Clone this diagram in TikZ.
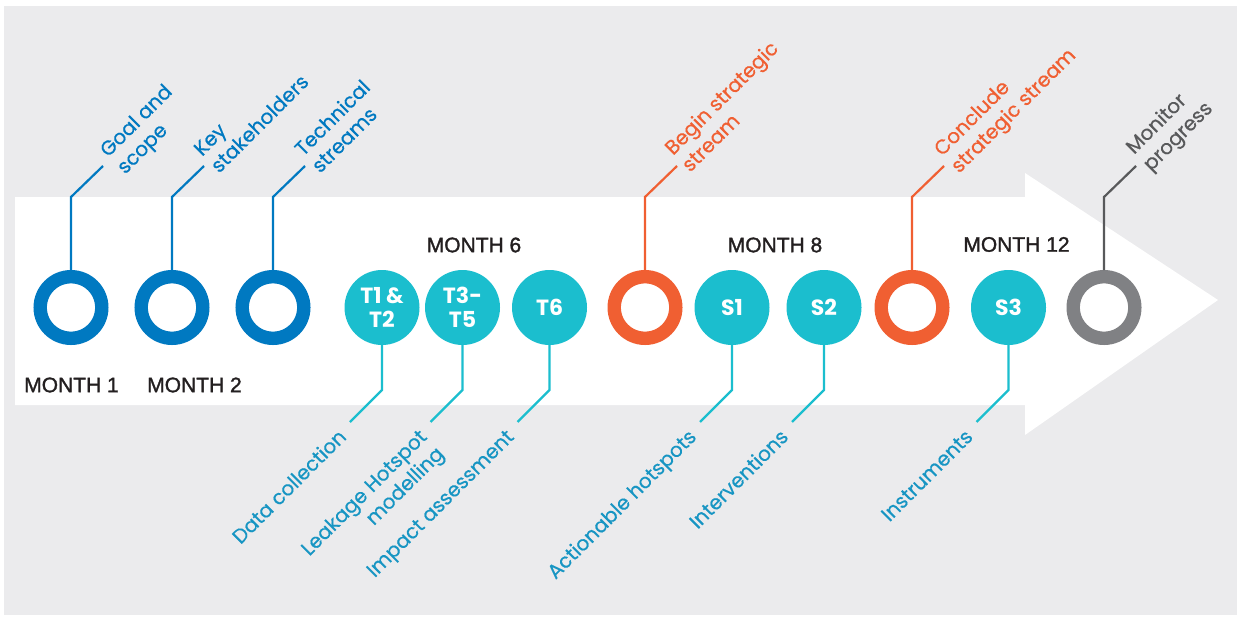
\documentclass[tikz,border=0pt]{standalone}
\usepackage{fontspec}
\setmainfont{Liberation Sans}
\newfontfamily\monthfont[FakeBold=1.5]{Liberation Sans}
\newfontfamily\labelfont[FakeBold=0.5]{Poppins}
\newfontfamily\taskfont{Poppins}
\usetikzlibrary{shapes.geometric, positioning}

\definecolor{bggray}{HTML}{EBEBED}
\definecolor{stepblue}{HTML}{0079C1}
\definecolor{tealring}{HTML}{1BBECE}
\definecolor{textteal}{HTML}{1795C3}
\definecolor{stratorange}{HTML}{F05F32}
\definecolor{ringgray}{HTML}{808184}
\definecolor{linegray}{HTML}{58595B}
\definecolor{monthblack}{HTML}{231F20}

\begin{document}
\begin{tikzpicture}[x=1pt, y=-1pt]

  \tikzstyle{ring} = [circle, minimum size=61.6pt, inner sep=0pt, outer sep=6.7pt, line width=13.4pt, fill=white]
  \tikzstyle{task} = [circle, minimum size=75pt, inner sep=0pt, outer sep=0pt, fill=tealring, text=white, align=center, font=\taskfont\bfseries\fontsize{22}{24}\selectfont]
  \tikzstyle{month} = [inner sep=0pt, text=monthblack, font=\monthfont\fontsize{21}{21}\selectfont]
  \tikzstyle{lead} = [line width=2.2pt]
  \tikzstyle{toplabel} = [rotate=45, anchor=base west, align=left, inner sep=0pt, font=\labelfont\fontsize{20}{24}\selectfont]
  \tikzstyle{botlabel} = [rotate=45, anchor=base east, align=right, inner sep=0pt, text=textteal, font=\labelfont\fontsize{20}{24}\selectfont]

  % background and arrow
  \fill [white] (0,0) rectangle (1241,618);
  \fill [bggray] (4,6) rectangle (1237,615);
  \fill [white] (15,197) -- (1025,197) -- (1025,173) -- (1218,300) -- (1025,435) -- (1025,405) -- (15,405) -- cycle;

  % milestones
  \node (goal)     [ring, draw=stepblue] at (71,307.5) {};
  \node (keys)     [ring, draw=stepblue] at (172,307.5) {};
  \node (techs)    [ring, draw=stepblue] at (273,307.5) {};
  \node (t12)      [task] at (382,307.5) {T1 \&\\T2};
  \node (t35)      [task] at (462.5,307.5) {T3-\\T5};
  \node (t6)       [task] at (549.5,307.5) {T6};
  \node (begin)    [ring, draw=stratorange] at (645,307.5) {};
  \node (s1)       [task] at (732,307.5) {S1};
  \node (s2)       [task] at (824,307.5) {S2};
  \node (conclude) [ring, draw=stratorange] at (912,307.5) {};
  \node (s3)       [task] at (1008.5,307.5) {S3};
  \node (monitor)  [ring, draw=ringgray] at (1104,307.5) {};

  \node (month1)  [month] at (71.5,385) {MONTH 1};
  \node (month2)  [month] at (194.5,385) {MONTH 2};
  \node (month6)  [month] at (474,245) {MONTH 6};
  \node (month8)  [month] at (775,245) {MONTH 8};
  \node (month12) [month] at (1016.5,244.5) {MONTH 12};

  % upper leaders
  \draw [lead, stepblue] (goal.north) -- ++(0,-73) -- ++(32,-31) coordinate (goalend);
  \node (goallabel) [toplabel, text=stepblue] at ([shift={(22,9)}]goalend) {Goal and\\scope};
  \draw [lead, stepblue] (keys.north) -- ++(0,-73) -- ++(32,-31) coordinate (keysend);
  \node (keyslabel) [toplabel, text=stepblue] at ([shift={(15,8)}]keysend) {Key\\stakeholders};
  \draw [lead, stepblue] (techs.north) -- ++(0,-73) -- ++(32,-31) coordinate (techsend);
  \node (techslabel) [toplabel, text=stepblue] at ([shift={(15,8)}]techsend) {Technical\\streams};
  \draw [lead, stratorange] (begin.north) -- ++(0,-73) -- ++(32,-31) coordinate (beginend);
  \node (beginlabel) [toplabel, text=stratorange] at ([shift={(13,7)}]beginend) {Begin strategic\\stream};
  \draw [lead, stratorange] (conclude.north) -- ++(0,-73) -- ++(32,-31) coordinate (concludeend);
  \node (concludelabel) [toplabel, text=stratorange] at ([shift={(15,8)}]concludeend) {Conclude\\strategic stream};
  \draw [lead, linegray] (monitor.north) -- ++(0,-73) -- ++(32,-31) coordinate (monitorend);
  \node (monitorlabel) [toplabel, text=linegray] at ([shift={(15,6)}]monitorend) {Monitor\\progress};

  % lower leaders
  \draw [lead, tealring] (t12.south) -- ++(0,45) -- ++(-32,32) coordinate (t12end);
  \node (t12label) [botlabel] at ([shift={(-2.5,16)}]t12end) {Data collection};
  \draw [lead, tealring] (t35.south) -- ++(0,45) -- ++(-32,32) coordinate (t35end);
  \node (t35label) [botlabel] at ([shift={(14.5,33)}]t35end) {Leakage Hotspot\\modelling};
  \draw [lead, tealring] (t6.south) -- ++(0,45) -- ++(-32,32) coordinate (t6end);
  \node (t6label) [botlabel] at ([shift={(-2.5,16)}]t6end) {Impact assessment};
  \draw [lead, tealring] (s1.south) -- ++(0,45) -- ++(-32,32) coordinate (s1end);
  \node (s1label) [botlabel] at ([shift={(-2.5,16)}]s1end) {Actionable hotspots};
  \draw [lead, tealring] (s2.south) -- ++(0,45) -- ++(-32,32) coordinate (s2end);
  \node (s2label) [botlabel] at ([shift={(-2.5,16)}]s2end) {Interventions};
  \draw [lead, tealring] (s3.south) -- ++(0,45) -- ++(-32,32) coordinate (s3end);
  \node (s3label) [botlabel] at ([shift={(-2.5,16)}]s3end) {Instruments};

\end{tikzpicture}
\end{document}
